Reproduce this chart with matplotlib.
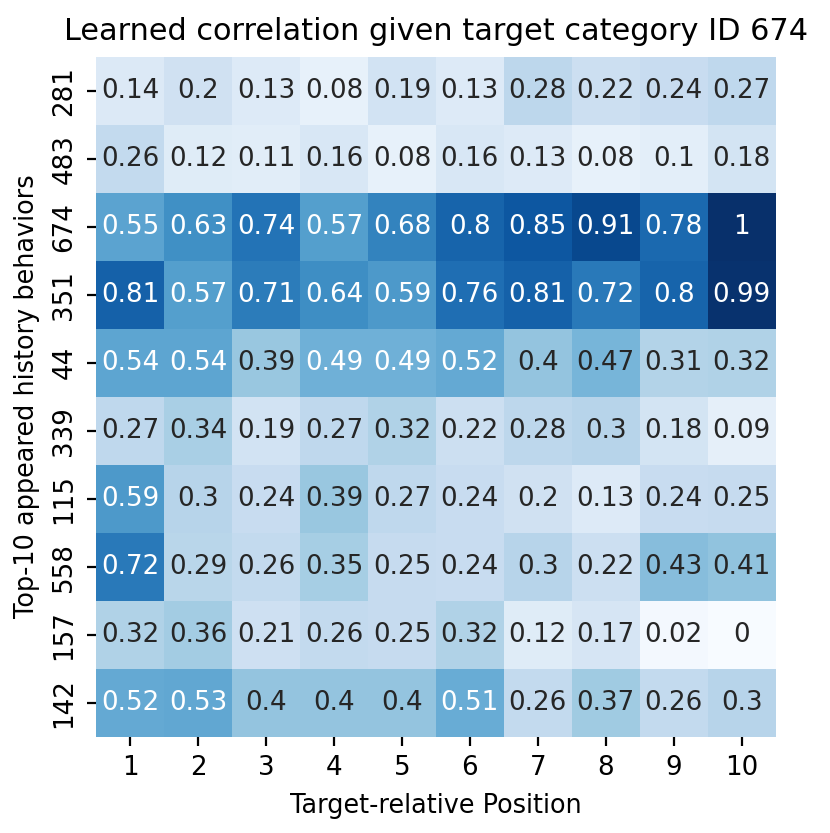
import numpy as np
import matplotlib
matplotlib.use("Agg")
import matplotlib.pyplot as plt
import seaborn as sns

behaviors = ["281", "483", "674", "351", "44", "339", "115", "558", "157", "142"]
positions = [1, 2, 3, 4, 5, 6, 7, 8, 9, 10]

corr = np.array([
    [0.14, 0.2, 0.13, 0.08, 0.19, 0.13, 0.28, 0.22, 0.24, 0.27],
    [0.26, 0.12, 0.11, 0.16, 0.08, 0.16, 0.13, 0.08, 0.1, 0.18],
    [0.55, 0.63, 0.74, 0.57, 0.68, 0.8, 0.85, 0.91, 0.78, 1],
    [0.81, 0.57, 0.71, 0.64, 0.59, 0.76, 0.81, 0.72, 0.8, 0.99],
    [0.54, 0.54, 0.39, 0.49, 0.49, 0.52, 0.4, 0.47, 0.31, 0.32],
    [0.27, 0.34, 0.19, 0.27, 0.32, 0.22, 0.28, 0.3, 0.18, 0.09],
    [0.59, 0.3, 0.24, 0.39, 0.27, 0.24, 0.2, 0.13, 0.24, 0.25],
    [0.72, 0.29, 0.26, 0.35, 0.25, 0.24, 0.3, 0.22, 0.43, 0.41],
    [0.32, 0.36, 0.21, 0.26, 0.25, 0.32, 0.12, 0.17, 0.02, 0],
    [0.52, 0.53, 0.4, 0.4, 0.4, 0.51, 0.26, 0.37, 0.26, 0.3],
])

fs = 9.4
fig, ax = plt.subplots(figsize=(4.15, 4.165), dpi=200)
sns.heatmap(corr, cmap="Blues", annot=True, fmt="g", cbar=False,
            xticklabels=positions, yticklabels=behaviors, ax=ax,
            annot_kws={"size": fs})
ax.set_title("Learned correlation given target category ID 674", fontsize=10.95)
ax.set_xlabel("Target-relative Position", fontsize=9.2)
ax.set_ylabel("Top-10 appeared history behaviors", fontsize=9.2)
ax.tick_params(axis="both", labelsize=fs, length=3.25)
ax.tick_params(axis="y", rotation=90)
for t in ax.get_yticklabels():
    t.set_va("center")
fig.subplots_adjust(left=0.1157, right=0.9346, top=0.932, bottom=0.1156)
fig.savefig("out.png", dpi=200)
